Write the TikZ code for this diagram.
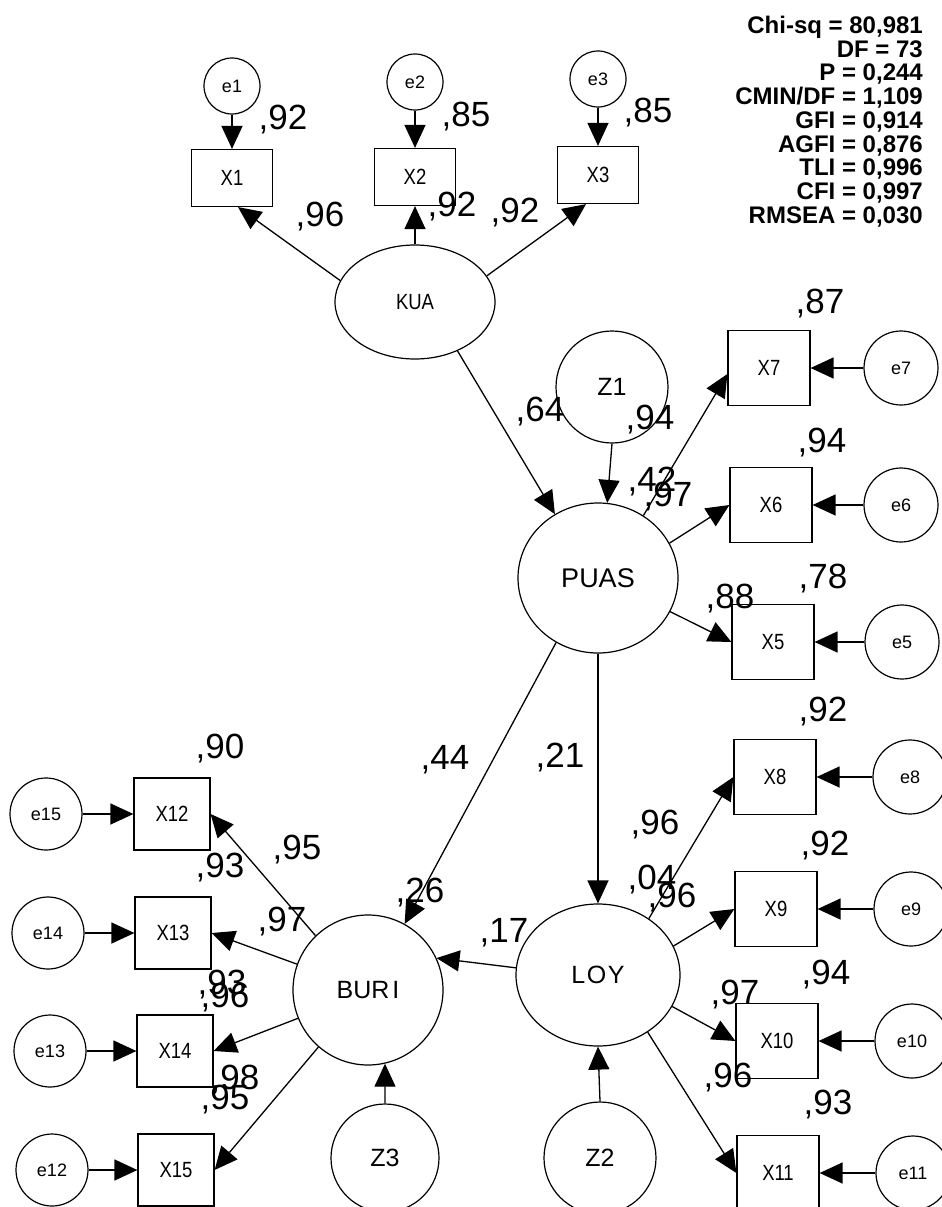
\documentclass[tikz,border=0pt]{standalone}
\usepackage{fontspec}
\setmainfont{Liberation Sans}
\newfontfamily\narrowsans[FakeStretch=0.84]{Liberation Sans}
\usetikzlibrary{arrows.meta,shapes.geometric}
\begin{document}
\begin{tikzpicture}[x=1pt,y=-1pt,
  every node/.style={inner sep=0pt},
  obs/.style={draw, line width=1.2pt, rectangle, minimum width=82pt, minimum height=75pt, font=\narrowsans\fontsize{22}{24}\selectfont},
  obsT/.style={obs, minimum width=81pt, minimum height=57pt},
  obsL/.style={obs, minimum width=76pt, minimum height=72pt},
  err/.style={draw, circle, line width=1.2pt, minimum size=74pt, font=\fontsize{18}{20}\selectfont},
  errT/.style={err, minimum size=56pt},
  errL/.style={err, minimum size=72pt},
  latc/.style={draw, circle, line width=1.2pt, minimum size=150pt, font=\fontsize{25}{27}\selectfont},
  late/.style={draw, ellipse, line width=1.2pt, font=\fontsize{25}{27}\selectfont},
  dist/.style={draw, circle, line width=1.2pt, minimum size=112pt, font=\fontsize{25}{27}\selectfont},
  lab/.style={font=\fontsize{35}{40}\selectfont},
  stat/.style={anchor=base east, font=\bfseries\fontsize{24}{26}\selectfont},
  arr/.style={line width=1.3pt, -{Triangle[length=23pt,width=21pt]}}
]
\fill[white] (0,0) rectangle (942,1207);
\useasboundingbox (0,0) rectangle (942,1207);

% ---------- top block ----------
\node[errT] (e1) at (232,86) {e1};
\node[errT] (e2) at (415,82) {e2};
\node[errT] (e3) at (598,79) {e3};
\node[obsT] (x1) at (232,178) {X1};
\node[obsT] (x2) at (415,177) {X2};
\node[obsT] (x3) at (598,175) {X3};
\node[late, minimum width=160pt, minimum height=114pt, font=\narrowsans\fontsize{22}{24}\selectfont] (kua) at (415,302) {KUA};

% ---------- PUAS ----------
\node[dist] (z1) at (612,387) {Z1};
\node[late, minimum width=160pt, minimum height=150pt, font=\fontsize{27}{29}\selectfont] (puas) at (598,578) {PUAS};

% ---------- right column ----------
\node[obs] (x7) at (769,368) {X7};
\node[obs] (x6) at (771,505) {X6};
\node[obs] (x5) at (773,642) {X5};
\node[obs] (x8) at (775,777) {X8};
\node[obs] (x9) at (776,909) {X9};
\node[obs] (x10) at (777,1041) {X10};
\node[obs] (x11) at (778,1173) {X11};
\node[err] (e7) at (901,368) {e7};
\node[err] (e6) at (901,505) {e6};
\node[err] (e5) at (902,642) {e5};
\node[err] (e8) at (910,777) {e8};
\node[err] (e9) at (911,909) {e9};
\node[err] (e10) at (912,1041) {e10};
\node[err] (e11) at (913,1173) {e11};

% ---------- LOY ----------
\node[late, minimum width=164pt, minimum height=142pt] (loy) at (598,975) {L\kern1.5pt O\kern1.5pt Y};
\node[dist] (z2) at (600,1158) {Z2};

% ---------- BURI ----------
\node[latc] (buri) at (368,990) {BUR\kern3pt I};
\node[dist, minimum size=108pt] (z3) at (385,1158) {Z3};

% ---------- left column ----------
\node[obsL] (x12) at (172,814) {X12};
\node[obsL] (x13) at (173,933) {X13};
\node[obsL] (x14) at (175,1051) {X14};
\node[obsL] (x15) at (176,1170) {X15};
\node[errL] (e15) at (46,814) {e15};
\node[errL] (e14) at (48,933) {e14};
\node[errL] (e13) at (50,1051) {e13};
\node[errL] (e12) at (52,1170) {e12};

% ---------- connectors ----------
\draw[arr] (e1) -- (x1);
\draw[arr] (e2) -- (x2);
\draw[arr] (e3) -- (x3);
\draw[arr] (kua.164) -- ([xshift=6pt]x1.south);
\draw[arr] (kua.north) -- (x2.south);
\draw[arr] (kua.20) -- ([xshift=-12pt]x3.south);
\draw[arr] (kua.-49) -- (puas.124);
\draw[arr] (z1.south) -- (puas.83);
\draw[arr] (puas.54) -- ([yshift=-6pt]x7.west);
\draw[arr] (puas.26) -- (x6.west);
\draw[arr] (puas.-25) -- (x5.west);
\draw[arr] (e7) -- (x7);
\draw[arr] (e6) -- (x6);
\draw[arr] (e5) -- (x5);
\draw[arr] (puas.south) -- (loy.north);
\draw[arr] (puas.237) -- (buri.61);
\draw[arr] (loy.48) -- (x8.west);
\draw[arr] (loy.21) -- (x9.west);
\draw[arr] (loy.-23) -- (x10.west);
\draw[arr] (loy.-49) -- (x11.west);
\draw[arr] (e8) -- (x8);
\draw[arr] (e9) -- (x9);
\draw[arr] (e10) -- (x10);
\draw[arr] (e11) -- (x11);
\draw[arr] (z2.north) -- (loy.south);
\draw[arr] (loy.175) -- (buri.25);
\draw[arr] (z3.north) -- (buri.-77);
\draw[arr] (buri.134) -- (x12.east);
\draw[arr] (buri.160) -- (x13.east);
\draw[arr] (buri.202) -- (x14.east);
\draw[arr] (buri.229) -- (x15.east);
\draw[arr] (e15) -- (x12);
\draw[arr] (e14) -- (x13);
\draw[arr] (e13) -- (x14);
\draw[arr] (e12) -- (x15);

% ---------- coefficient labels ----------
\node[lab] (l1) at (283,120) {,92};
\node[lab] (l2) at (466,117) {,85};
\node[lab] (l3) at (648,113) {,85};
\node[lab] (l4) at (320,217) {,96};
\node[lab] (l5) at (452,207) {,92};
\node[lab] (l6) at (515,213) {,92};
\node[lab] (l7) at (540,412) {,64};
\node[lab] (l8) at (650,420) {,94};
\node[lab] (l9) at (652,482) {,42};
\node[lab] (l10) at (668,497) {,97};
\node[lab] (l11) at (820,304) {,87};
\node[lab] (l12) at (822,443) {,94};
\node[lab] (l13) at (823,579) {,78};
\node[lab] (l14) at (730,599) {,88};
\node[lab] (l15) at (445,760) {,44};
\node[lab] (l16) at (560,758) {,21};
\node[lab] (l17) at (655,825) {,96};
\node[lab] (l18) at (652,880) {,04};
\node[lab] (l19) at (672,898) {,96};
\node[lab] (l20) at (823,712) {,92};
\node[lab] (l21) at (825,846) {,92};
\node[lab] (l22) at (826,975) {,94};
\node[lab] (l23) at (735,995) {,97};
\node[lab] (l24) at (728,1078) {,96};
\node[lab] (l25) at (828,1105) {,93};
\node[lab] (l26) at (504,933) {,17};
\node[lab] (l27) at (420,893) {,26};
\node[lab] (l28) at (297,850) {,95};
\node[lab] (l29) at (220,749) {,90};
\node[lab] (l30) at (220,868) {,93};
\node[lab] (l31) at (282,922) {,97};
\node[lab] (l32) at (222,985) {,93};
\node[lab] (l33) at (225,998) {,96};
\node[lab] (l34) at (235,1080) {,98};
\node[lab] (l35) at (225,1100) {,95};

% ---------- fit statistics ----------
\node[stat] (s1) at (923,33.5) {Chi-sq = 80,981};
\node[stat] (s2) at (923,57.2) {DF = 73};
\node[stat] (s3) at (923,80.9) {P = 0,244};
\node[stat] (s4) at (923,104.6) {CMIN/DF = 1,109};
\node[stat] (s5) at (923,128.3) {GFI = 0,914};
\node[stat] (s6) at (923,152.0) {AGFI = 0,876};
\node[stat] (s7) at (923,175.7) {TLI = 0,996};
\node[stat] (s8) at (923,199.4) {CFI = 0,997};
\node[stat] (s9) at (923,223.1) {RMSEA = 0,030};
\end{tikzpicture}
\end{document}
